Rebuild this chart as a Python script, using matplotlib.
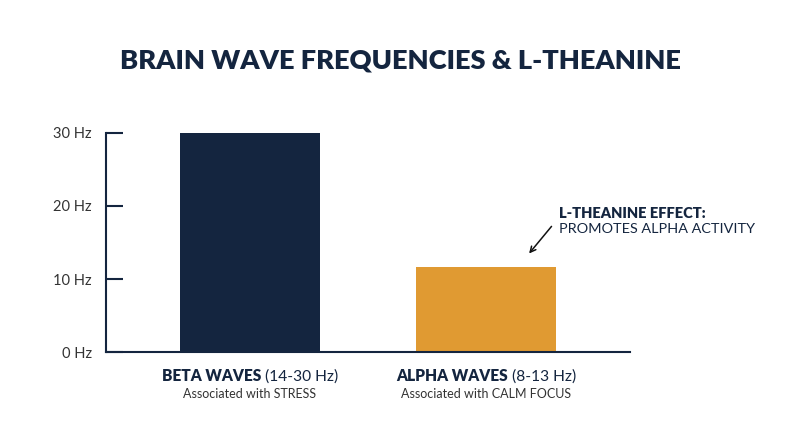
import numpy as np
import matplotlib
matplotlib.use("Agg")
import matplotlib.pyplot as plt
from matplotlib.transforms import offset_copy

plt.rcParams['font.family'] = ['Lato', 'DejaVu Sans']

# data
waves = ["BETA WAVES", "ALPHA WAVES"]
ranges = ["(14-30 Hz)", "(8-13 Hz)"]
notes = ["Associated with STRESS", "Associated with CALM FOCUS"]
freq = [30, 11.6]
yticks = [0, 10, 20, 30]
ytick_labels = ["0 Hz", "10 Hz", "20 Hz", "30 Hz"]

navy = "#14253f"
orange = "#e09a32"
grey = "#333333"

fig = plt.figure(figsize=(8, 4.47), dpi=100)
ax = fig.add_axes([0.1325, 0.2125, 0.655, 0.49])

x = np.arange(len(waves))
ax.bar(x, freq, width=0.593, color=[navy, orange], zorder=2)
ax.set_xlim(-0.61, 1.61)
ax.set_ylim(0, 30)

for s in ["top", "right"]:
    ax.spines[s].set_visible(False)
for s in ["left", "bottom"]:
    ax.spines[s].set_color(navy)
    ax.spines[s].set_linewidth(1.5)

ax.set_yticks(yticks)
ax.set_yticklabels(ytick_labels)
ax.tick_params(axis="y", direction="in", length=12, width=1.5, color=navy,
               labelsize=10.5, labelcolor=grey, pad=10)
ax.set_xticks([])

fig.text(0.5, 0.865, "BRAIN WAVE FREQUENCIES & L-THEANINE", ha="center", va="center",
         fontsize=19.6, fontweight="heavy", color=navy)

# category labels: bold name + regular range, centred together
fig.canvas.draw()
r = fig.canvas.get_renderer()
for i in range(len(waves)):
    t1 = ax.text(x[i], -3.3, waves[i], ha="left", va="center", fontsize=11.2,
                 fontweight="heavy", color=navy, transform=ax.transData)
    t2 = ax.text(x[i], -3.3, " " + ranges[i], ha="left", va="center", fontsize=11.2,
                 color=navy, transform=ax.transData)
    w1 = t1.get_window_extent(r).width
    w2 = t2.get_window_extent(r).width
    tot = w1 + w2
    t1.set_transform(offset_copy(ax.transData, fig=fig, x=-tot / 2, y=0, units="dots"))
    t2.set_transform(offset_copy(ax.transData, fig=fig, x=-tot / 2 + w1, y=0, units="dots"))
    ax.text(x[i], -5.8, notes[i], ha="center", va="center", fontsize=9, color=grey)

for t in ax.texts:
    t.set_clip_on(False)

# annotation
ax.annotate("", xy=(1.175, 13.2), xytext=(1.285, 17.5),
            arrowprops=dict(arrowstyle="->", color="#111111", lw=1.1))
ax.text(1.31, 19.0, "L-THEANINE EFFECT:", ha="left", va="center", fontsize=10.5,
        fontweight="heavy", color=navy)
ax.text(1.31, 16.8, "PROMOTES ALPHA ACTIVITY", ha="left", va="center", fontsize=10.4,
        color=navy)

fig.savefig("out.png", dpi=100, facecolor="white")
